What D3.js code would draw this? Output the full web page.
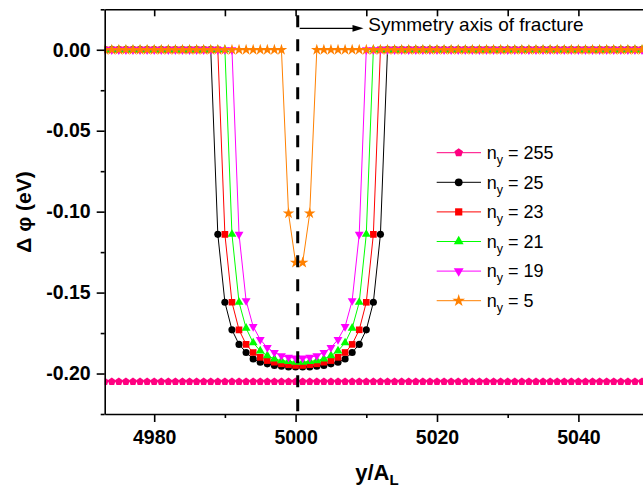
<!DOCTYPE html>
<html>
<head>
<meta charset="utf-8">
<script src="https://cdn.jsdelivr.net/npm/d3@7"></script>
<style>
  html, body { margin: 0; padding: 0; background: #fff; overflow: hidden; }
  svg { display: block; font-family: "Liberation Sans", Arial, sans-serif; }
  text { white-space: pre; }
</style>
</head>
<body>
<svg id="chart" width="643" height="489"></svg>
<script>
// Sites along the transverse direction (y / A_L)
const positions = [
  4973,4974,4975,4976,4977,4978,4979,4980,4981,4982,4983,4984,4985,
  4986,4987,4988,4989,4990,4991,4992,4993,4994,4995,4996,4997,4998,
  4999,5000,5001,5002,5003,5004,5005,5006,5007,5008,5009,5010,5011,
  5012,5013,5014,5015,5016,5017,5018,5019,5020,5021,5022,5023,5024,
  5025,5026,5027,5028,5029,5030,5031,5032,5033,5034,5035,5036,5037,
  5038,5039,5040,5041,5042,5043,5044,5045,5046,5047,5048,5049,5050
];

// Δφ (eV) for each ribbon width n_y
const ny255 = [
  -0.205,-0.205,-0.205,-0.205,-0.205,-0.205,-0.205,-0.205,-0.205,-0.205,-0.205,-0.205,-0.205,
  -0.205,-0.205,-0.205,-0.205,-0.205,-0.205,-0.205,-0.205,-0.205,-0.205,-0.205,-0.205,-0.205,
  -0.205,-0.205,-0.205,-0.205,-0.205,-0.205,-0.205,-0.205,-0.205,-0.205,-0.205,-0.205,-0.205,
  -0.205,-0.205,-0.205,-0.205,-0.205,-0.205,-0.205,-0.205,-0.205,-0.205,-0.205,-0.205,-0.205,
  -0.205,-0.205,-0.205,-0.205,-0.205,-0.205,-0.205,-0.205,-0.205,-0.205,-0.205,-0.205,-0.205,
  -0.205,-0.205,-0.205,-0.205,-0.205,-0.205,-0.205,-0.205,-0.205,-0.205,-0.205,-0.205,-0.205
];
const ny25 = [
  0,0,0,0,0,0,0,0,0,0,0,0,0,
  0,0,0,-0.114,-0.156,-0.173,-0.182,-0.187,-0.191,-0.193,-0.194,-0.195,-0.1955,
  -0.196,-0.196,-0.196,-0.196,-0.1955,-0.195,-0.194,-0.193,-0.191,-0.187,-0.182,-0.173,-0.156,
  -0.114,0,0,0,0,0,0,0,0,0,0,0,0,
  0,0,0,0,0,0,0,0,0,0,0,0,0,
  0,0,0,0,0,0,0,0,0,0,0,0,0
];
const ny23 = [
  0,0,0,0,0,0,0,0,0,0,0,0,0,
  0,0,0,0,-0.114,-0.156,-0.173,-0.182,-0.187,-0.190,-0.192,-0.193,-0.194,
  -0.1945,-0.195,-0.195,-0.1945,-0.194,-0.193,-0.192,-0.190,-0.187,-0.182,-0.173,-0.156,-0.114,
  0,0,0,0,0,0,0,0,0,0,0,0,0,
  0,0,0,0,0,0,0,0,0,0,0,0,0,
  0,0,0,0,0,0,0,0,0,0,0,0,0
];
const ny21 = [
  0,0,0,0,0,0,0,0,0,0,0,0,0,
  0,0,0,0,0,-0.114,-0.156,-0.172,-0.181,-0.186,-0.189,-0.191,-0.192,
  -0.1925,-0.193,-0.193,-0.1925,-0.192,-0.191,-0.189,-0.186,-0.181,-0.172,-0.156,-0.114,0,
  0,0,0,0,0,0,0,0,0,0,0,0,0,
  0,0,0,0,0,0,0,0,0,0,0,0,0,
  0,0,0,0,0,0,0,0,0,0,0,0,0
];
const ny19 = [
  0,0,0,0,0,0,0,0,0,0,0,0,0,
  0,0,0,0,0,0,-0.114,-0.155,-0.171,-0.179,-0.184,-0.187,-0.189,
  -0.190,-0.1905,-0.1905,-0.190,-0.189,-0.187,-0.184,-0.179,-0.171,-0.155,-0.114,0,0,
  0,0,0,0,0,0,0,0,0,0,0,0,0,
  0,0,0,0,0,0,0,0,0,0,0,0,0,
  0,0,0,0,0,0,0,0,0,0,0,0,0
];
const ny5 = [
  0,0,0,0,0,0,0,0,0,0,0,0,0,
  0,0,0,0,0,0,0,0,0,0,0,0,0,
  -0.101,-0.1315,-0.1315,-0.101,0,0,0,0,0,0,0,0,0,
  0,0,0,0,0,0,0,0,0,0,0,0,0,
  0,0,0,0,0,0,0,0,0,0,0,0,0,
  0,0,0,0,0,0,0,0,0,0,0,0,0
];

const seriesLabels = ["255", "25", "23", "21", "19", "5"];
const xMajorTicks = [4980, 5000, 5020, 5040];
const xMinorTicks = [4990, 5010, 5030, 5050];
const xTopTicks = [4980, 4990, 5000, 5010, 5020, 5030, 5040, 5050];
const yMajorTicks = [0, -0.05, -0.10, -0.15, -0.20];
const yMinorTicks = [0.025, -0.025, -0.075, -0.125, -0.175, -0.225];
const symmetryAxis = 5000.3;
const annotationText = "Symmetry axis of fracture";

// ---- layout ----
const plot = { left: 104.7, right: 649.1, top: 9.3, bottom: 414 };
const x = d3.scaleLinear().domain([4973, 5050]).range([plot.left, plot.right]);
const y = d3.scaleLinear().domain([0.025, -0.225]).range([plot.top, plot.bottom]);

const svg = d3.select("#chart");

// regular pentagon marker
const symbolPentagon = {
  draw(ctx, size) {
    const r = Math.sqrt(size / 2.3776);
    for (let k = 0; k < 5; k++) {
      const a = -Math.PI / 2 + k * 2 * Math.PI / 5;
      const px = r * Math.cos(a), py = r * Math.sin(a);
      if (k === 0) ctx.moveTo(px, py); else ctx.lineTo(px, py);
    }
    ctx.closePath();
  }
};

const styles = [
  { color: "#ff0080", symbol: symbolPentagon, size: 40, rot: 0 },
  { color: "#000000", symbol: d3.symbolCircle, size: 40, rot: 0 },
  { color: "#ff0000", symbol: d3.symbolSquare, size: 44, rot: 0 },
  { color: "#00ff00", symbol: d3.symbolTriangle, size: 34, rot: 0 },
  { color: "#ff00ff", symbol: d3.symbolTriangle, size: 34, rot: 180 },
  { color: "#ff8000", symbol: d3.symbolStar, size: 42, rot: 0 }
];
const seriesValues = [ny255, ny25, ny23, ny21, ny19, ny5];

const series = seriesLabels.map((label, i) => ({
  label,
  points: positions.map((p, j) => ({ p, v: seriesValues[i][j] })),
  ...styles[i]
}));

// clip for the plotting area
svg.append("defs").append("clipPath").attr("id", "plotClip")
  .append("rect")
  .attr("x", plot.left).attr("y", plot.top)
  .attr("width", plot.right - plot.left).attr("height", plot.bottom - plot.top);

const dataLayer = svg.append("g").attr("clip-path", "url(#plotClip)");

const line = d3.line().x(d => x(d.p)).y(d => y(d.v));

series.forEach(s => {
  const g = dataLayer.append("g");
  g.append("path")
    .attr("d", line(s.points))
    .attr("fill", "none")
    .attr("stroke", s.color)
    .attr("stroke-width", 1);
  const sym = d3.symbol().type(s.symbol).size(s.size);
  g.selectAll("path.mk").data(s.points).join("path")
    .attr("class", "mk")
    .attr("d", sym)
    .attr("transform", d => `translate(${x(d.p)},${y(d.v)}) rotate(${s.rot})`)
    .attr("fill", s.color);
});

// dashed symmetry axis
svg.append("line")
  .attr("x1", x(symmetryAxis)).attr("x2", x(symmetryAxis))
  .attr("y1", plot.top).attr("y2", plot.bottom)
  .attr("stroke", "#000").attr("stroke-width", 3)
  .attr("stroke-dasharray", "12,12").attr("stroke-dashoffset", 18);

// ---- axes ----
const axisW = 1.6;
function styleAxis(g) {
  g.selectAll("path.domain").attr("stroke", "#000").attr("stroke-width", axisW);
  g.selectAll(".tick line").attr("stroke", "#000").attr("stroke-width", axisW);
}

// bottom
const gB = svg.append("g").attr("transform", `translate(0,${plot.bottom})`)
  .call(d3.axisBottom(x).tickValues(xMajorTicks).tickSize(8).tickSizeOuter(0)
    .tickFormat(d3.format("d")).tickPadding(8));
styleAxis(gB);
gB.selectAll(".tick text")
  .attr("font-size", 19.5).attr("font-weight", "bold")
  .attr("font-family", "Liberation Sans, Arial, sans-serif").attr("fill", "#000");
const gBm = svg.append("g").attr("transform", `translate(0,${plot.bottom})`)
  .call(d3.axisBottom(x).tickValues(xMinorTicks).tickSize(4).tickSizeOuter(0).tickFormat(""));
styleAxis(gBm);
gBm.select("path.domain").remove();

// top (ticks pointing inward)
const gT = svg.append("g").attr("transform", `translate(0,${plot.top})`)
  .call(d3.axisTop(x).tickValues(xTopTicks).tickSize(-7).tickSizeOuter(0).tickFormat(""));
styleAxis(gT);

// left
const gL = svg.append("g").attr("transform", `translate(${plot.left},0)`)
  .call(d3.axisLeft(y).tickValues(yMajorTicks).tickSize(8).tickSizeOuter(0)
    .tickFormat(v => v.toFixed(2)).tickPadding(6));
styleAxis(gL);
gL.selectAll(".tick text")
  .attr("font-size", 19.5).attr("font-weight", "bold")
  .attr("font-family", "Liberation Sans, Arial, sans-serif").attr("fill", "#000");
const gLm = svg.append("g").attr("transform", `translate(${plot.left},0)`)
  .call(d3.axisLeft(y).tickValues(yMinorTicks).tickSize(4).tickSizeOuter(0).tickFormat(""));
styleAxis(gLm);
gLm.select("path.domain").remove();

// axis titles
const xTitle = svg.append("text")
  .attr("x", (plot.left + plot.right) / 2).attr("y", 480)
  .attr("text-anchor", "middle")
  .attr("font-size", 22).attr("font-weight", "bold");
xTitle.append("tspan").text("y/A");
xTitle.append("tspan").attr("font-size", 15).attr("dy", 5).text("L");

svg.append("text")
  .attr("transform", "translate(31,212) rotate(-90)")
  .attr("text-anchor", "middle")
  .attr("font-size", 21).attr("font-weight", "bold")
  .text("\u0394 \u03c6 (eV)");

// annotation arrow and label
const arrowY = 28.3;
const arrowX0 = x(symmetryAxis) + 2;
const arrowTip = 363.5;
svg.append("line")
  .attr("x1", arrowX0).attr("x2", arrowTip - 8)
  .attr("y1", arrowY).attr("y2", arrowY)
  .attr("stroke", "#000").attr("stroke-width", 1.2);
svg.append("path")
  .attr("d", `M${arrowTip},${arrowY} L${arrowTip - 11},${arrowY - 3.4} L${arrowTip - 11},${arrowY + 3.4} Z`)
  .attr("fill", "#000");
svg.append("text")
  .attr("x", 368.3).attr("y", 31)
  .attr("font-size", 19)
  .text(annotationText);

// legend
const legend = svg.append("g");
const legY0 = 152.7, legStep = 29.6;
series.forEach((s, i) => {
  const ly = legY0 + i * legStep;
  legend.append("line")
    .attr("x1", 436.7).attr("x2", 481)
    .attr("y1", ly).attr("y2", ly)
    .attr("stroke", s.color).attr("stroke-width", 1);
  legend.append("path")
    .attr("d", d3.symbol().type(s.symbol).size(s.size + 8)())
    .attr("transform", `translate(458.7,${ly}) rotate(${s.rot})`)
    .attr("fill", s.color);
  const t = legend.append("text")
    .attr("x", 486.7).attr("y", ly + 6.3)
    .attr("font-size", 18);
  t.append("tspan").text("n");
  t.append("tspan").attr("font-size", 12.5).attr("dy", 5).text("y");
  t.append("tspan").attr("dy", -5).text(" = " + s.label);
});
</script>
</body>
</html>
